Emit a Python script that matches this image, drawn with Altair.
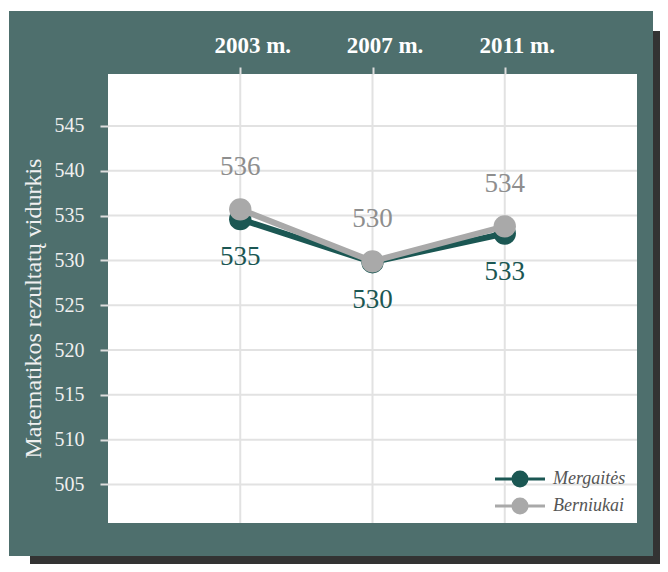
import altair as alt
import pandas as pd

# ---- data ----
years = ["2003 m.", "2007 m.", "2011 m."]
series = ["Mergaitės", "Berniukai"]
girls = [534.6, 529.8, 533.0]
boys = [535.7, 529.9, 533.8]
y_ticks = [505, 510, 515, 520, 525, 530, 535, 540, 545]
line_colors = ["#1b5753", "#a9a9a9"]
text_colors = ["#1b5753", "#8e8e8e"]

W, H = 529, 449
FONT = "Liberation Serif"

df_g = pd.DataFrame({"year": years, "series": series[0], "value": girls})
df_b = pd.DataFrame({"year": years, "series": series[1], "value": boys})
df_ticks = pd.DataFrame({"value": y_ticks})
df_years = pd.DataFrame({"year": years})
one = pd.DataFrame({"k": [0]})

X = alt.X("year:N",
          scale=alt.Scale(type="point", domain=years, padding=1),
          axis=alt.Axis(orient="top", title=None, grid=False, domain=False,
                        labelAngle=0, labelColor="white", labelFont=FONT,
                        labelFontSize=23, labelFontWeight="bold", labelOffset=12,
                        labelPadding=10, tickColor="#dddddd", tickSize=7,
                        tickWidth=2, zindex=1))
Y = alt.Y("value:Q",
          scale=alt.Scale(domain=[500.7, 550.8], nice=False, zero=False),
          axis=alt.Axis(values=y_ticks, grid=False, domain=False,
                        title="Matematikos rezultatų vidurkis",
                        titleColor="#f0f0f0", titleFont=FONT, titleFontSize=24,
                        titleFontWeight="normal", titlePadding=9, titleY=234,
                        labelColor="#f0f0f0", labelFont=FONT, labelFontSize=20,
                        labelPadding=16, tickColor="#dddddd", tickSize=8,
                        tickWidth=2, zindex=1))

color_scale = alt.Scale(domain=series, range=line_colors)
legend = alt.Legend(title=None, orient="none", legendX=403, legendY=396,
                    symbolType="M-5,0H5M1.4,0A1.4,1.4,0,1,1,-1.4,0A1.4,1.4,0,1,1,1.4,0Z",
                    symbolSize=100, symbolStrokeWidth=3, labelOffset=24,
                    rowPadding=1, labelFont=FONT, labelFontSize=18,
                    labelFontStyle="italic", labelColor="#555555", padding=0)

shadow = alt.Chart(one).mark_rect(color="#333333").encode(
    x=alt.value(-78), x2=alt.value(600), y=alt.value(-43), y2=alt.value(520))
panel = alt.Chart(one).mark_rect(color="#4e6f6d").encode(
    x=alt.value(-99), x2=alt.value(545), y=alt.value(-63), y2=alt.value(482))
plotbg = alt.Chart(one).mark_rect(color="white").encode(
    x=alt.value(0), x2=alt.value(W), y=alt.value(0), y2=alt.value(H))

hgrid = alt.Chart(df_ticks).mark_rule(color="#e2e2e2", strokeWidth=2).encode(y=Y)
vgrid = alt.Chart(df_years).mark_rule(color="#e2e2e2", strokeWidth=2).encode(x=X)


def series_layers(df, tcolor, dy):
    line = alt.Chart(df).mark_line(strokeWidth=6).encode(
        x=X, y=Y, color=alt.Color("series:N", scale=color_scale, legend=legend))
    pts = alt.Chart(df).mark_point(filled=True, size=500, opacity=1).encode(
        x=X, y=Y, fill=alt.Fill("series:N", scale=color_scale, legend=legend))
    txt = alt.Chart(df).mark_text(font=FONT, fontSize=27, color=tcolor, dy=dy,
                                  baseline="middle").encode(
        x=X, y=Y, text=alt.Text("value:Q", format=".0f"))
    return [line, pts, txt]


layers = [shadow, panel, plotbg, hgrid, vgrid]
layers += series_layers(df_g, text_colors[0], 38)
layers += series_layers(df_b, text_colors[1], -42)

chart = alt.layer(*layers).properties(
    width=W, height=H,
    padding={"left": 100, "top": 66, "right": 23, "bottom": 41},
    autosize=alt.AutoSizeParams(type="none"),
    background="white",
).configure_view(stroke=None)

chart.save("out.html", embed_options={"renderer": "svg", "actions": False})
